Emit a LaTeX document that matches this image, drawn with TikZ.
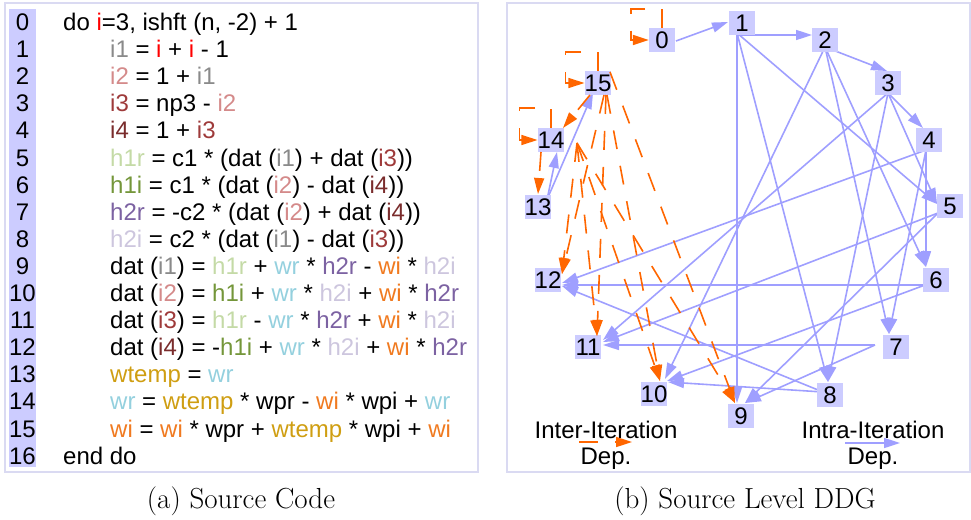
\documentclass[tikz,border=0pt]{standalone}
\usepackage{fontspec}
\newfontfamily\sansf{Liberation Sans}
\usetikzlibrary{arrows.meta,calc}
\pgfdeclarelayer{bg}
\pgfsetlayers{bg,main}
\definecolor{nodefill}{HTML}{CCCCFF}
\definecolor{edgeblue}{HTML}{9F9FFF}
\definecolor{depor}{HTML}{FF6600}
\definecolor{framecol}{HTML}{DADAF2}
\definecolor{cI}{HTML}{FF0000}
\definecolor{cIa}{HTML}{8A8A8A}
\definecolor{cIb}{HTML}{D48A8A}
\definecolor{cIc}{HTML}{9E3A3A}
\definecolor{cId}{HTML}{7A2C2C}
\definecolor{cHa}{HTML}{C4DAA6}
\definecolor{cHb}{HTML}{74963A}
\definecolor{cHc}{HTML}{7C62A2}
\definecolor{cHd}{HTML}{CDC6DE}
\definecolor{cWr}{HTML}{94D0DE}
\definecolor{cWi}{HTML}{F07A20}
\definecolor{cWt}{HTML}{CF9E12}
\newcommand\VI{\textcolor{cI}{i}}
\newcommand\VIa{\textcolor{cIa}{i1}}
\newcommand\VIb{\textcolor{cIb}{i2}}
\newcommand\VIc{\textcolor{cIc}{i3}}
\newcommand\VId{\textcolor{cId}{i4}}
\newcommand\VHa{\textcolor{cHa}{h1r}}
\newcommand\VHb{\textcolor{cHb}{h1i}}
\newcommand\VHc{\textcolor{cHc}{h2r}}
\newcommand\VHd{\textcolor{cHd}{h2i}}
\newcommand\VWr{\textcolor{cWr}{wr}}
\newcommand\VWi{\textcolor{cWi}{wi}}
\newcommand\VWt{\textcolor{cWt}{wtemp}}
\tikzset{
  nbox/.style={fill=nodefill, inner sep=0pt, minimum width=26pt, minimum height=24pt,
    font=\sansf\fontsize{24}{24}\selectfont},
  blueedge/.style={draw=edgeblue, line width=1.6pt, -{Triangle[length=16pt,width=10pt]}},
  orangeedge/.style={draw=depor, line width=1.6pt, dash pattern=on 19pt off 17pt,
    -{Triangle[length=16pt,width=10pt]}},
  codeline/.style={anchor=base west, inner sep=0pt, font=\sansf\fontsize{24}{27}\selectfont},
  lineno/.style={anchor=base, inner sep=0pt, font=\sansf\fontsize{24}{27}\selectfont},
  legtext/.style={anchor=base, inner sep=0pt, font=\sansf\fontsize{24}{27}\selectfont},
  captext/.style={inner sep=0pt, font=\fontsize{29}{32}\selectfont},
  frame/.style={draw=framecol, line width=1.5pt},
}
\begin{document}
\begin{tikzpicture}[x=1pt,y=-1pt]
\useasboundingbox (0,0) rectangle (971,519);

% ---------- code listing ----------
\foreach \k in {0,...,16} \node[lineno] (ln\k) at (22.5,{30.5+27.1*\k}) {\k};
\node[codeline] (c0)  at (63,30.5)  {do \VI=3, ishft (n, -2) + 1};
\node[codeline] (c1)  at (110,57.6) {\VIa{} = \VI{} + \VI{} - 1};
\node[codeline] (c2)  at (110,84.7) {\VIb{} = 1 + \VIa};
\node[codeline] (c3)  at (110,111.8) {\VIc{} = np3 - \VIb};
\node[codeline] (c4)  at (110,138.9) {\VId{} = 1 + \VIc};
\node[codeline] (c5)  at (110,166.0) {\VHa{} = c1 * (dat (\VIa) + dat (\VIc))};
\node[codeline] (c6)  at (110,193.1) {\VHb{} = c1 * (dat (\VIb) - dat (\VId))};
\node[codeline] (c7)  at (110,220.2) {\VHc{} = -c2 * (dat (\VIb) + dat (\VId))};
\node[codeline] (c8)  at (110,247.3) {\VHd{} = c2 * (dat (\VIa) - dat (\VIc))};
\node[codeline] (c9)  at (110,274.4) {dat (\VIa) = \VHa{} + \VWr{} * \VHc{} - \VWi{} * \VHd};
\node[codeline] (c10) at (110,301.5) {dat (\VIb) = \VHb{} + \VWr{} * \VHd{} + \VWi{} * \VHc};
\node[codeline] (c11) at (110,328.6) {dat (\VIc) = \VHa{} - \VWr{} * \VHc{} + \VWi{} * \VHd};
\node[codeline] (c12) at (110,355.7) {dat (\VId) = -\VHb{} + \VWr{} * \VHd{} + \VWi{} * \VHc};
\node[codeline] (c13) at (110,382.8) {\VWt{} = \VWr};
\node[codeline] (c14) at (110,409.9) {\VWr{} = \VWt{} * wpr - \VWi{} * wpi + \VWr};
\node[codeline] (c15) at (110,437.0) {\VWi{} = \VWi{} * wpr + \VWt{} * wpi + \VWi};
\node[codeline] (c16) at (63,464.1) {end do};

% ---------- DDG nodes ----------
\node[nbox] (n0)  at (662,40)  {0};
\node[nbox] (n1)  at (742,23)  {1};
\node[nbox] (n2)  at (825,40)  {2};
\node[nbox] (n3)  at (888,83)  {3};
\node[nbox] (n4)  at (929,140) {4};
\node[nbox] (n5)  at (950,206) {5};
\node[nbox] (n6)  at (936,280) {6};
\node[nbox] (n7)  at (896,347) {7};
\node[nbox] (n8)  at (830,395) {8};
\node[nbox] (n9)  at (741,416) {9};
\node[nbox] (n10) at (654,394) {10};
\node[nbox] (n11) at (588,347) {11};
\node[nbox] (n12) at (548,280) {12};
\node[nbox] (n13) at (538,207) {13};
\node[nbox] (n14) at (551,140) {14};
\node[nbox] (n15) at (598,83)  {15};

% ---------- legend ----------
\node[legtext] (legA1) at (606,438) {Inter-Iteration};
\node[legtext] (legA2) at (606,464) {Dep.};
\node[legtext] (legB1) at (873,438) {Intra-Iteration};
\node[legtext] (legB2) at (873,464) {Dep.};

% ---------- captions ----------
\node[captext] (capA) at (241,501) {(a) Source Code};
\node[captext] (capB) at (745,501) {(b) Source Level DDG};

\begin{pgfonlayer}{bg}
  \draw[frame] (5,3) rectangle (478,472);
  \draw[frame] (507,3) rectangle (970,472);
  \fill[nodefill] (9,9) rectangle (36,467);
  % intra-iteration dependences
  \draw[blueedge] ($(n0)+(14,1)$) -- ($(n1)+(-14,-1)$);
  \draw[blueedge] ($(n1)+(-5,12)$) -- ($(n2)+(-13,-5)$);
  \draw[blueedge] ($(n2)+(0,7)$) -- ($(n3)+(-1,-12)$);
  \draw[blueedge] ($(n3)+(0,10)$) -- ($(n4)+(-6,-12)$);
  \draw[blueedge] ($(n1)+(-5,10)$) -- ($(n5)+(-13,-2)$);
  \draw[blueedge] ($(n3)+(0,10)$) -- ($(n5)+(-13,-2)$);
  \draw[blueedge] ($(n2)+(0,7)$) -- ($(n6)+(-10,-13)$);
  \draw[blueedge] ($(n4)+(-3,10)$) -- ($(n6)+(-10,-13)$);
  \draw[blueedge] ($(n2)+(0,7)$) -- ($(n7)+(-7,-13)$);
  \draw[blueedge] ($(n4)+(-3,10)$) -- ($(n7)+(-7,-13)$);
  \draw[blueedge] ($(n1)+(-5,10)$) -- ($(n8)+(-2,-13)$);
  \draw[blueedge] ($(n3)+(0,10)$) -- ($(n8)+(-2,-13)$);
  \draw[blueedge] ($(n1)+(-5,10)$) -- ($(n9)+(-4,-13)$);
  \draw[blueedge] ($(n5)+(-12,7)$) -- ($(n9)+(4,-13)$);
  \draw[blueedge] ($(n7)+(-21,-2)$) -- ($(n9)+(4,-13)$);
  \draw[blueedge] ($(n2)+(0,7)$) -- ($(n10)+(11,-15)$);
  \draw[blueedge] ($(n6)+(-11,5)$) -- ($(n10)+(13,-13)$);
  \draw[blueedge] ($(n8)+(-7,-3)$) -- ($(n10)+(14,-12)$);
  \draw[blueedge] ($(n3)+(0,10)$) -- ($(n11)+(15,-7)$);
  \draw[blueedge] ($(n5)+(-12,7)$) -- ($(n11)+(15,-5)$);
  \draw[blueedge] ($(n7)+(-21,-2)$) -- ($(n11)+(15,-2)$);
  \draw[blueedge] ($(n4)+(-3,10)$) -- ($(n12)+(14,3)$);
  \draw[blueedge] ($(n6)+(-11,5)$) -- ($(n12)+(14,5)$);
  \draw[blueedge] ($(n8)+(-7,-3)$) -- ($(n12)+(14,6)$);
  \draw[blueedge] ($(n13)+(10,-12)$) -- ($(n14)+(6,12)$);
  \draw[blueedge] ($(n13)+(11,-12)$) -- ($(n15)+(-5,10)$);
\end{pgfonlayer}

% inter-iteration dependences
\draw[orangeedge] (n0.north) -- ++(0,-19) -| ($(n0.west)+(-18,0)$) -- (n0.west);
\draw[orangeedge] (n15.north) -- ++(0,-19) -| ($(n15.west)+(-19,0)$) -- (n15.west);
\draw[orangeedge] (n14.north) -- ++(0,-20) -| ($(n14.west)+(-18,0)$) -- (n14.west);
\draw[orangeedge] ($(n15)+(-8,12)$) -- ($(n14)+(12,-12)$);
\draw[orangeedge] ($(n14)+(-10,12)$) -- ($(n13)+(0,-13)$);
\draw[orangeedge] ($(n15)+(12,-11)$) -- ($(n9)+(-6,-13)$);
\draw[orangeedge] ($(n15)+(9,12)$) -- ($(n10)+(6,-13)$);
\draw[orangeedge] ($(n15)+(8,12)$) -- ($(n11)+(9,-11)$);
\draw[orangeedge] ($(n15)+(6,12)$) -- ($(n12)+(14,-6)$);
\draw[orangeedge] ($(n14)+(26,3)$) -- ($(n9)+(-6,-13)$);
\draw[orangeedge] ($(n14)+(26,3)$) -- ($(n10)+(6,-13)$);
\draw[orangeedge] ($(n14)+(26,3)$) -- ($(n11)+(9,-11)$);
\draw[orangeedge] ($(n14)+(26,3)$) -- ($(n12)+(14,-6)$);

% legend arrows
\draw[orangeedge] ($(legA1.base)+(-27,4)$) -- ++(53,0);
\draw[blueedge] ($(legB1.base)+(-28,5)$) -- ++(55,0);
\end{tikzpicture}
\end{document}
